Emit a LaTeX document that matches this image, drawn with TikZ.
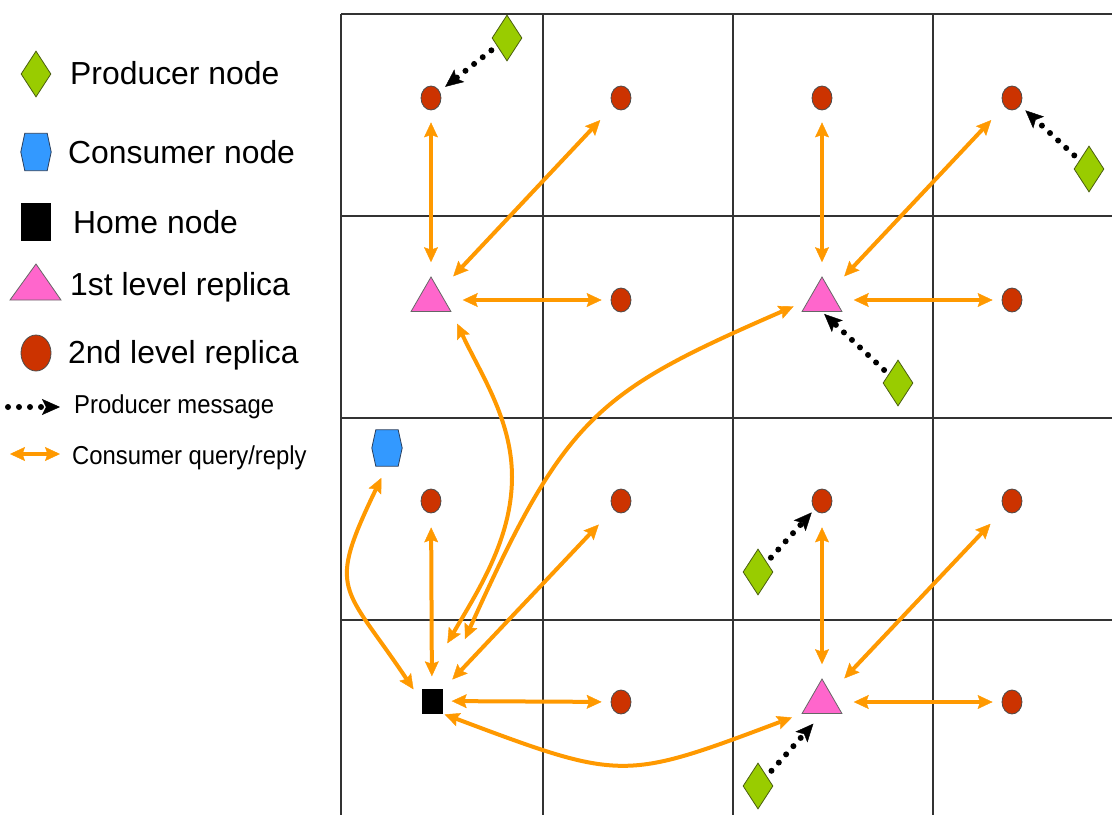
\documentclass[tikz,border=0pt]{standalone}
\usepackage{fontspec}
\setmainfont{Liberation Sans}
\newfontfamily\narrowsans[FakeStretch=0.92]{Liberation Sans}
\usetikzlibrary{arrows.meta,shapes.geometric}

\definecolor{prodgreen}{HTML}{99CC00}
\definecolor{prodedge}{HTML}{4A5E10}
\definecolor{consblue}{HTML}{3399FF}
\definecolor{consedge}{HTML}{2B3F5C}
\definecolor{reppink}{HTML}{FF66CC}
\definecolor{repred}{HTML}{CC3300}
\definecolor{qorange}{HTML}{FF9900}

% hexagon drawn inside the box of a named node
\newcommand{\drawhex}[1]{%
  \filldraw[hexfill] (#1.west) -- ([xshift=4bp]#1.north west) -- ([xshift=-4bp]#1.north east)
    -- (#1.east) -- ([xshift=-4bp]#1.south east) -- ([xshift=4bp]#1.south west) -- cycle;}

\begin{document}
\begin{tikzpicture}[x=1bp,y=-1bp,
  gridline/.style={draw=black!80, line width=1.3bp},
  rep2/.style={ellipse, draw=black!70, fill=repred, line width=0.8bp,
    minimum width=20bp, minimum height=24bp, inner sep=0pt},
  rep1/.style={regular polygon, regular polygon sides=3, draw=black!60, fill=reppink,
    line width=0.8bp, minimum size=46bp, inner sep=0pt},
  prod/.style={diamond, draw=prodedge, fill=prodgreen, line width=0.8bp,
    minimum width=30bp, minimum height=46bp, inner sep=0pt},
  homebox/.style={rectangle, fill=black, minimum width=21bp, minimum height=25bp, inner sep=0pt},
  consbox/.style={rectangle, minimum width=30bp, minimum height=36bp, inner sep=0pt},
  hexfill/.style={draw=consedge, fill=consblue, line width=0.8bp},
  qr/.style={draw=qorange, line width=4bp,
    arrows={Stealth[length=15bp,width=14bp,inset=2.5bp,line width=0.4bp]-Stealth[length=15bp,width=14bp,inset=2.5bp,line width=0.4bp]}},
  pm/.style={draw=black, line width=6bp, line cap=round, dash pattern=on 0bp off 11bp,
    arrows={-Stealth[length=18bp,width=16bp,inset=4bp,line width=0.4bp]}},
  lbig/.style={anchor=base west, inner sep=0pt, font=\fontsize{32}{38}\selectfont},
  lsmall/.style={anchor=base west, inner sep=0pt, font=\narrowsans\fontsize{26}{31}\selectfont},
]
\useasboundingbox (0,0) rectangle (1112,815);

% ---------- grid ----------
\foreach \x in {341,543,733,933} \draw[gridline] (\x,14) -- (\x,815);
\foreach \y in {14,216,418,620} \draw[gridline] (341,\y) -- (1112,\y);
\draw[gridline, line width=2.6bp] (933,216) -- (933,620);

% ---------- legend ----------
\node[prod] (lp) at (36,74) {};
\node[consbox, minimum height=37bp] (lc) at (36,152) {};
\drawhex{lc}
\node[homebox, minimum width=30bp, minimum height=38bp] (lh) at (36,222) {};
\filldraw[fill=reppink, draw=black!60, line width=0.8bp] (10,300) -- (36,264) -- (61,300) -- cycle;
\node[rep2, minimum width=30bp, minimum height=36bp] (lr) at (36,353) {};
\coordinate (lpmA) at (8,407);  \coordinate (lpmB) at (60,407);
\draw[pm] (lpmA) -- (lpmB);
\coordinate (lqrA) at (10,454); \coordinate (lqrB) at (60,454);
\draw[qr] (lqrA) -- (lqrB);

\node[lbig] (tprod) at (70,85) {Producer node};
\node[lbig] (tcons) at (68,163) {Consumer node};
\node[lbig] (thome) at (73,233) {Home node};
\node[lbig] (trep1) at (70,295) {1st level replica};
\node[lbig] (trep2) at (68,363) {2nd level replica};
\node[lsmall] (tpm) at (74,413) {Producer message};
\node[lsmall] (tqr) at (72,464) {Consumer query/reply};

% ---------- nodes ----------
\node[rep2] (c11) at (431,98) {};
\node[rep2] (c12) at (621,98) {};
\node[rep2] (c13) at (822,98) {};
\node[rep2] (c14) at (1012,98) {};
\node[rep1] (t21) at (431,300) {};
\node[rep2] (c22) at (621,300) {};
\node[rep1] (t23) at (822,300) {};
\node[rep2] (c24) at (1012,300) {};
\node[rep2] (c31) at (431,501) {};
\node[rep2] (c32) at (621,501) {};
\node[rep2] (c33) at (822,501) {};
\node[rep2] (c34) at (1012,501) {};
\node[homebox] (h) at (432,701) {};
\node[rep2] (c42) at (621,702) {};
\node[rep1] (t43) at (822,702) {};
\node[rep2] (c44) at (1012,702) {};

\node[consbox] (cons) at (387,448) {};
\drawhex{cons}

\node[prod] (p1) at (507,38) {};
\node[prod] (p2) at (1089,169) {};
\node[prod] (p3) at (898,383) {};
\node[prod] (p4) at (758,572) {};
\node[prod] (p5) at (758,786) {};

% ---------- consumer query/reply ----------
\draw[qr, shorten <=12bp, shorten >=14bp] (c11) -- (t21);
\draw[qr, shorten <=19bp, shorten >=20bp] (c12) -- (t21);
\draw[qr, shorten <=12bp, shorten >=14bp] (c13) -- (t23);
\draw[qr, shorten <=19bp, shorten >=20bp] (c14) -- (t23);
\draw[qr, shorten <=18bp, shorten >=9bp] (t21) -- (c22);
\draw[qr, shorten <=18bp, shorten >=9bp] (t23) -- (c24);
\draw[qr, shorten <=14bp, shorten >=12bp] (c31) -- (h);
\draw[qr, shorten <=21bp, shorten >=14bp] (c32) -- (h);
\draw[qr, shorten <=14bp, shorten >=14bp] (c33) -- (t43);
\draw[qr, shorten <=20bp, shorten >=20bp] (c34) -- (t43);
\draw[qr, shorten <=9bp, shorten >=9bp] (h) -- (c42);
\draw[qr, shorten <=18bp, shorten >=9bp] (t43) -- (c44);

% home to the first-level replica above: a bow bulging to the right
\draw[qr, shorten <=52bp, shorten >=13bp] (h.north west)
  .. controls (476.5,593) and (512,540) .. (512,477)
  .. controls (512,420) and (481,374.5) .. (t21.corner 3);
\draw[qr, shorten <=54bp, shorten >=16bp] (h.north east) .. controls (566,415) and (597,392) .. (t23.west);
\draw[qr, shorten <=13bp, shorten >=14bp] (cons.south) .. controls (326,593) and (343,584) .. (h.west);
\draw[qr, shorten <=2bp, shorten >=10bp] (h.south east) .. controls (622,781) and (623,781) .. (t43.corner 2);

% ---------- producer messages ----------
\draw[pm, shorten <=7bp, shorten >=7bp] (p1) -- (c11);
\draw[pm, shorten <=7bp, shorten >=7bp] (p2) -- (c14);
\draw[pm, shorten <=6bp, shorten >=3bp] (p3) -- (t23.south);
\draw[pm, shorten <=6bp, shorten >=4bp] (p4) -- (c33);
\draw[pm, shorten <=7bp, shorten >=13bp] (p5) -- (t43.south);
\end{tikzpicture}
\end{document}
